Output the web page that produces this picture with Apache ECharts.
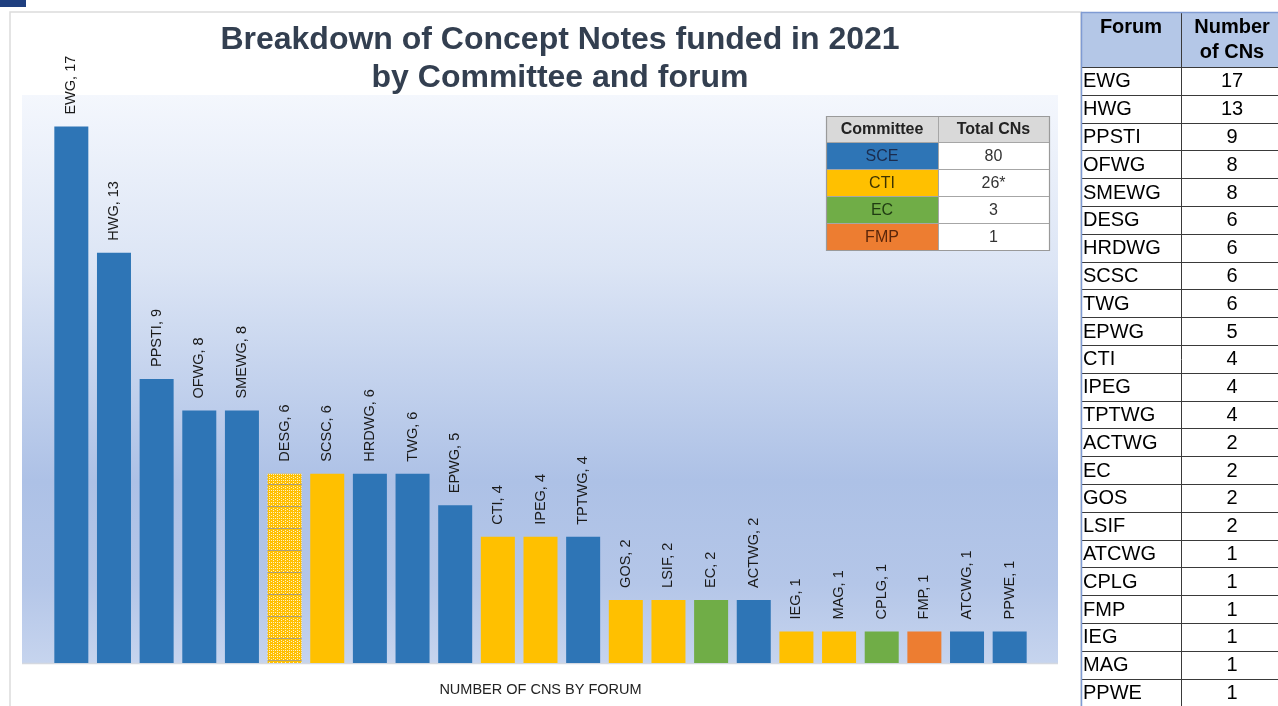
<!DOCTYPE html>
<html>
<head>
<meta charset="utf-8">
<script src="https://cdn.jsdelivr.net/npm/echarts@6/dist/echarts.min.js"></script>
<style>
html,body{margin:0;padding:0;background:#fff;}
#chart{width:1278px;height:706px;}
</style>
</head>
<body>
<div id="chart"></div>
<script>
// ---------- data ----------
const forums = ['EWG','HWG','PPSTI','OFWG','SMEWG','DESG','SCSC','HRDWG','TWG','EPWG','CTI','IPEG','TPTWG','GOS','LSIF','EC','ACTWG','IEG','MAG','CPLG','FMP','ATCWG','PPWE'];
const counts = [17,13,9,8,8,6,6,6,6,5,4,4,4,2,2,2,2,1,1,1,1,1,1];
const forumCommittee = ['SCE','SCE','SCE','SCE','SCE','CTI','CTI','SCE','SCE','SCE','CTI','CTI','SCE','CTI','CTI','EC','SCE','CTI','CTI','EC','FMP','SCE','SCE'];
const patternedForums = ['DESG'];
const committees = ['SCE','CTI','EC','FMP'];
const committeeTotals = ['80','26*','3','1'];
const tableForums = ['EWG','HWG','PPSTI','OFWG','SMEWG','DESG','HRDWG','SCSC','TWG','EPWG','CTI','IPEG','TPTWG','ACTWG','EC','GOS','LSIF','ATCWG','CPLG','FMP','IEG','MAG','PPWE'];
const titleText = 'Breakdown of Concept Notes funded in 2021\nby Committee and forum';
const axisTitle = 'NUMBER OF CNS BY FORUM';
const tableHeaders = ['Forum', 'Number\nof CNs'];
const committeeHeaders = ['Committee', 'Total CNs'];

// ---------- styles ----------
const committeeColor = {SCE:'#2e75b6', CTI:'#ffc000', EC:'#70ad47', FMP:'#ed7d31'};
const committeeTextColor = {SCE:'#1b2c4e', CTI:'#3d3300', EC:'#1f3b12', FMP:'#5a260a'};
const FONT = '"Liberation Sans", Arial, Helvetica, sans-serif';

function makePattern(){
  const W = 4, H = 22;
  const c = document.createElement('canvas');
  c.width = W; c.height = H;
  const ctx = c.getContext('2d');
  ctx.fillStyle = '#ffc000';
  ctx.fillRect(0,0,W,H);
  ctx.fillStyle = '#fff1c4';
  for (let y=1;y<H;y++){
    if (y%2===0) ctx.fillRect(1,y,1,1);
    if (y%3===0) ctx.fillRect(3,y,1,1);
  }
  ctx.fillStyle = '#ab9f7c';
  ctx.fillRect(0,0,W,1);
  return c;
}
const patternImg = makePattern();

const chart = echarts.init(document.getElementById('chart'), null, {renderer:'canvas'});

const barData = counts.map((v,i)=>{
  const f = forums[i];
  const color = patternedForums.includes(f) ? {image: patternImg, repeat:'repeat'} : committeeColor[forumCommittee[i]];
  return {value: v, itemStyle:{color: color}};
});

// ---------- graphic (frame, background, tables) ----------
const graphics = [];
graphics.push({type:'rect', shape:{x:0,y:0,width:26,height:7}, style:{fill:'#1f3f7f'}, z:-5});
graphics.push({type:'rect', shape:{x:10,y:12,width:1071,height:710}, style:{fill:'#ffffff', stroke:'#dcdcdc', lineWidth:1.5}, z:-20});
graphics.push({type:'rect', shape:{x:22,y:95,width:1036,height:568},
  style:{fill: new echarts.graphic.LinearGradient(0,0,0,1,[
    {offset:0,color:'#f4f7fd'},{offset:0.3,color:'#dce5f5'},{offset:0.68,color:'#adc1e6'},
    {offset:0.86,color:'#b4c6e8'},{offset:1,color:'#c6d4ee'}])}, z:-10});
graphics.push({type:'line', shape:{x1:22,y1:663.5,x2:1058,y2:663.5}, style:{stroke:'#d4d8e0', lineWidth:1.5}, z:-9});

// inner committee table
const itX = 826, itCol = 938, itR = 1049, itTop = 116, itHeadH = 26, itRowH = 27;
graphics.push({type:'rect', shape:{x:itX,y:itTop,width:itR-itX,height:itHeadH}, style:{fill:'#d9d9d9'}, z:50});
graphics.push({type:'text', x:(itX+itCol)/2, y:itTop+itHeadH/2+1, style:{text:committeeHeaders[0], fontFamily:FONT, fontSize:16, fontWeight:'bold', fill:'#222', align:'center', verticalAlign:'middle'}, z:52});
graphics.push({type:'text', x:(itCol+itR)/2, y:itTop+itHeadH/2+1, style:{text:committeeHeaders[1], fontFamily:FONT, fontSize:16, fontWeight:'bold', fill:'#222', align:'center', verticalAlign:'middle'}, z:52});
committees.forEach((c,i)=>{
  const y = itTop + itHeadH + i*itRowH;
  graphics.push({type:'rect', shape:{x:itX,y:y,width:itCol-itX,height:itRowH}, style:{fill:committeeColor[c]}, z:50});
  graphics.push({type:'rect', shape:{x:itCol,y:y,width:itR-itCol,height:itRowH}, style:{fill:'#ffffff'}, z:50});
  graphics.push({type:'text', x:(itX+itCol)/2, y:y+itRowH/2+1, style:{text:c, fontFamily:FONT, fontSize:16, fill:committeeTextColor[c], align:'center', verticalAlign:'middle'}, z:52});
  graphics.push({type:'text', x:(itCol+itR)/2, y:y+itRowH/2+1, style:{text:committeeTotals[i], fontFamily:FONT, fontSize:16, fill:'#333', align:'center', verticalAlign:'middle'}, z:52});
  graphics.push({type:'line', shape:{x1:itX,y1:y+0.5,x2:itR,y2:y+0.5}, style:{stroke:'#a6a6a6', lineWidth:1}, z:53});
});
const itBottom = itTop + itHeadH + committees.length*itRowH;
graphics.push({type:'line', shape:{x1:itCol+0.5,y1:itTop,x2:itCol+0.5,y2:itBottom}, style:{stroke:'#a6a6a6', lineWidth:1}, z:53});
graphics.push({type:'rect', shape:{x:itX+0.5,y:itTop+0.5,width:itR-itX,height:itBottom-itTop}, style:{fill:'none', stroke:'#9a9a9a', lineWidth:1.2}, z:54});

// right forum table
const rtX = 1081, rtCol = 1181, rtR = 1300, rtTop = 12, rtHeadH = 55, rtRowH = 27.8;
graphics.push({type:'rect', shape:{x:rtX,y:rtTop,width:rtR-rtX,height:rtHeadH}, style:{fill:'#b4c7e7'}, z:50});
graphics.push({type:'text', x:(rtX+rtCol)/2, y:rtTop+15, style:{text:tableHeaders[0], fontFamily:FONT, fontSize:20, fontWeight:'bold', fill:'#000', align:'center', verticalAlign:'middle'}, z:52});
graphics.push({type:'text', x:1232, y:rtTop+28, style:{text:tableHeaders[1], fontFamily:FONT, fontSize:20, fontWeight:'bold', fill:'#000', align:'center', verticalAlign:'middle', lineHeight:25}, z:52});
tableForums.forEach((f,i)=>{
  const y = rtTop + rtHeadH + i*rtRowH;
  const v = counts[forums.indexOf(f)];
  graphics.push({type:'line', shape:{x1:rtX,y1:Math.round(y)+0.5,x2:rtR,y2:Math.round(y)+0.5}, style:{stroke:'#3a3a3a', lineWidth:1}, z:53});
  graphics.push({type:'text', x:rtX+2, y:y+rtRowH/2+1, style:{text:f, fontFamily:FONT, fontSize:20, fill:'#000', align:'left', verticalAlign:'middle'}, z:52});
  graphics.push({type:'text', x:1232, y:y+rtRowH/2+1, style:{text:String(v), fontFamily:FONT, fontSize:20, fill:'#000', align:'center', verticalAlign:'middle'}, z:52});
});
graphics.push({type:'line', shape:{x1:rtCol+0.5,y1:rtTop,x2:rtCol+0.5,y2:720}, style:{stroke:'#3a3a3a', lineWidth:1}, z:53});
graphics.push({type:'line', shape:{x1:rtX+0.5,y1:rtTop,x2:rtX+0.5,y2:720}, style:{stroke:'#7f9bd3', lineWidth:1.5}, z:54});
graphics.push({type:'line', shape:{x1:rtX,y1:rtTop+0.5,x2:rtR,y2:rtTop+0.5}, style:{stroke:'#7f9bd3', lineWidth:1.5}, z:54});

const option = {
  backgroundColor:'#ffffff',
  animation:false,
  title:{
    text: titleText,
    left: 555, top: 16, textAlign:'center',
    textStyle:{fontFamily:FONT, fontSize:32, fontWeight:'bold', color:'#333f50', lineHeight:38}
  },
  grid:{left:50, right:247, top:95, bottom:43, containLabel:false},
  xAxis:{
    type:'category', data: forums,
    axisLine:{show:false}, axisTick:{show:false}, axisLabel:{show:false},
    name: axisTitle, nameLocation:'middle', nameGap:19,
    nameTextStyle:{fontFamily:FONT, fontSize:14.5, color:'#222'}
  },
  yAxis:{type:'value', min:0, max:18, show:false, splitLine:{show:false}},
  graphic: graphics,
  series:[{
    type:'bar', data: barData, barWidth:34,
    label:{show:true, position:'top', rotate:90, align:'left', verticalAlign:'middle', distance:12,
      formatter:'{b}, {c}', fontFamily:FONT, fontSize:14.5, color:'#1a1a1a'}
  }]
};
chart.setOption(option);
</script>
</body>
</html>
